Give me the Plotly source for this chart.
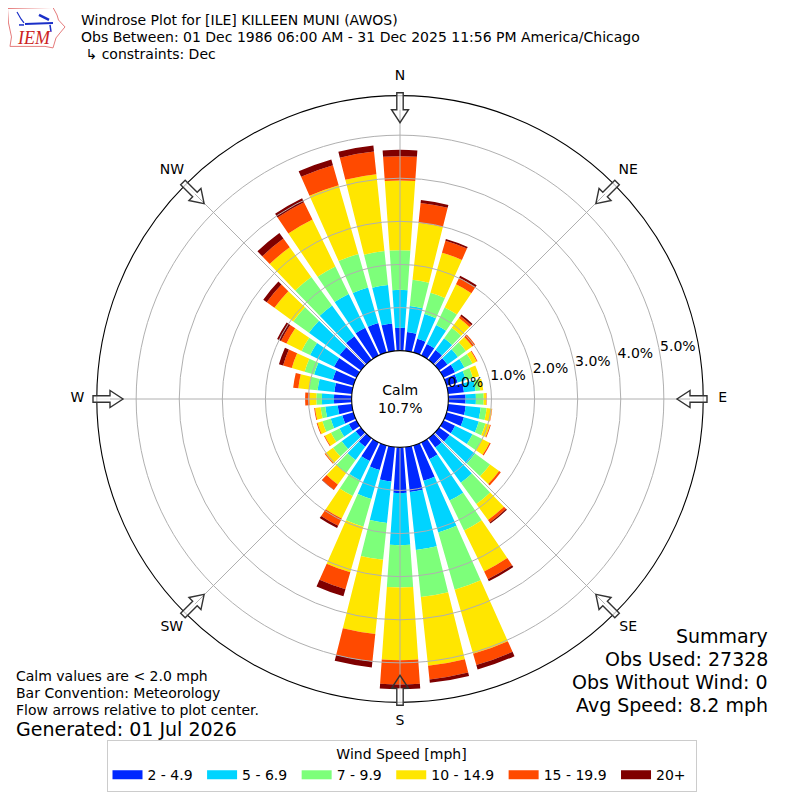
import math
import numpy as np
import plotly.graph_objects as go

directions = list(range(0, 360, 10))
speed_bins = ["2 - 4.9", "5 - 6.9", "7 - 9.9", "10 - 14.9", "15 - 19.9", "20+"]
bin_colors = ["#0028ff", "#00d4ff", "#7dff7a", "#ffe600", "#ff4a00", "#7f0000"]

# cumulative percent at the top of each speed bin, per direction
top_2_5 = [.53,.44,.33,.30,.28,.24,.30,.27,.37,.40,.41,.42,.30,.30,.27,.43,.85,1.05,1.06,.80,.59,.48,.25,.15,.20,.27,.33,.41,.41,.50,.58,.61,.68,.72,.71,.64]
top_5_7 = [1.41,1.05,.93,.79,.62,.54,.54,.47,.64,.64,.76,.78,.75,1.03,1.28,1.50,2.10,2.40,2.27,1.77,1.29,.98,.63,.55,.44,.55,.62,.69,.80,.95,1.20,1.49,1.56,1.59,1.57,1.54]
top_7_10 = [2.33,1.66,1.44,1.24,.92,.77,.75,.64,.75,.82,.90,.94,1.00,1.46,1.89,2.27,3.48,3.50,3.25,2.63,1.96,1.38,1.00,.80,.66,.75,.73,.82,1.00,1.18,1.42,1.94,2.38,2.30,2.38,2.33]
top_10_15 = [3.95,2.99,2.41,1.84,1.20,.95,.86,.79,.82,.88,1.02,1.05,1.19,1.72,2.35,3.33,5.03,5.10,4.94,4.36,3.06,1.96,1.33,1.02,.82,.87,.86,.98,1.25,1.49,1.81,2.48,3.23,3.51,4.04,4.12]
top_15_20 = [4.51,3.45,2.70,2.01,1.26,1.03,.88,.79,.82,.89,1.03,1.07,1.22,1.77,2.42,3.53,5.30,5.42,5.50,5.00,3.47,2.15,1.48,1.04,.84,.89,.88,1.08,1.37,1.70,1.95,2.70,3.48,3.96,4.52,4.65]
top_20 = [4.66,3.52,2.74,2.06,1.30,1.03,.88,.79,.82,.89,1.03,1.07,1.22,1.77,2.45,3.58,5.41,5.50,5.61,5.14,3.64,2.21,1.49,1.04,.84,.89,.88,1.08,1.37,1.80,2.05,2.80,3.64,4.06,4.66,4.79]

radial_ticks = [0, 1, 2, 3, 4, 5]
radial_labels = ["0.0%", "1.0%", "2.0%", "3.0%", "4.0%", "5.0%"]
compass_vals = [0, 45, 90, 135, 180, 225, 270, 315]
compass_text = ["N", "NE", "E", "SE", "S", "SW", "W", "NW"]

title_lines = ["Windrose Plot for [ILE] KILLEEN MUNI (AWOS)",
               "Obs Between: 01 Dec 1986 06:00 AM - 31 Dec 2025 11:56 PM America/Chicago",
               " \u21b3 constraints: Dec"]
summary_lines = ["Summary", "Obs Used: 27328", "Obs Without Wind: 0", "Avg Speed: 8.2 mph"]
note_lines = ["Calm values are < 2.0 mph", "Bar Convention: Meteorology", "Flow arrows relative to plot center."]
generated = "Generated: 01 Jul 2026"
calm_text = "Calm<br>10.7%"

FONT = "DejaVu Sans"
# the page body keeps an 8 px margin, so the figure is 784 px and sits at (8, 8)
W = 784
OFF = 8
RMAX = 5.914
HOLE_PCT = 48.5 / 43.2
DOM = [(392 - 304) / W, (392 + 304) / W]
DOM_LABELS = [(392 - 345) / W, (392 + 345) / W]
RMAX_LABELS = 345 / 43.2 - HOLE_PCT
COMPASS_R = 6.366


def px(x):
    return (x - OFF) / W


def py(y):
    return 1 - (y - OFF) / W


fig = go.Figure()
tops = np.array([top_2_5, top_5_7, top_7_10, top_10_15, top_15_20, top_20])
increments = np.diff(np.vstack([np.zeros(len(directions)), tops]), axis=0)
for name, color, inc in zip(speed_bins, bin_colors, increments):
    fig.add_trace(go.Barpolar(theta=directions, r=inc.round(3), width=8, name=name,
                              marker=dict(color=color, line=dict(width=0)),
                              showlegend=False, hoverinfo="skip", subplot="polar"))
for name, color in zip(speed_bins, bin_colors):
    fig.add_trace(go.Scatterpolar(theta=[None], r=[None], mode="lines", name=name + "\u00a0",
                                  line=dict(color=color, width=9), subplot="polar2"))
# radial and compass labels, placed through the polar axes
fig.add_trace(go.Scatterpolar(theta=[80.3] * len(radial_ticks), r=radial_ticks, text=radial_labels, mode="text",
                              textposition="top right", textfont=dict(family=FONT, size=14, color="#000000"),
                              cliponaxis=False, showlegend=False, hoverinfo="skip", subplot="polar2"))
fig.add_trace(go.Scatterpolar(theta=compass_vals, r=[COMPASS_R] * len(compass_vals), text=compass_text, mode="text",
                              textposition="middle center", textfont=dict(family=FONT, size=14, color="#000000"),
                              cliponaxis=False, showlegend=False, hoverinfo="skip", subplot="polar3"))


def path(points, close=False):
    return "M" + " L".join(f"{px(x):.5f},{py(y):.5f}" for x, y in points) + (" Z" if close else "")


shapes = []
# flow arrows at the eight compass points: see-through head, pale shaft
for deg in compass_vals:
    a = math.radians(deg)
    ux, uy = math.sin(a), -math.cos(a)
    vx, vy = math.cos(a), math.sin(a)

    def place(outline):
        return [(400 + ux * r + vx * s, 400 + uy * r + vy * s) for r, s in outline]

    shapes.append(dict(type="path", path=path(place([(307, 3.2), (290, 3.2), (290, -3.2), (307, -3.2)]), True),
                       xref="paper", yref="paper", fillcolor="rgba(255,255,255,0.75)", line=dict(width=0)))
    outline = [(307, 3.2), (290, 3.2), (290, 8.5), (277, 0), (290, -8.5), (290, -3.2), (307, -3.2)]
    shapes.append(dict(type="path", path=path(place(outline), True), xref="paper", yref="paper",
                       fillcolor="rgba(0,0,0,0)", line=dict(color="#333333", width=1.4)))

iowa = [(7.5, 8.5), (53, 7.5), (57, 15), (58.5, 20), (65, 27), (60, 33), (56, 38), (53, 48),
        (45, 46.5), (10, 46.5), (11.5, 37), (8.5, 23)]
shapes.append(dict(type="path", path=path(iowa, True), xref="paper", yref="paper",
                   line=dict(color="#e57b7b", width=1), fillcolor="rgba(0,0,0,0)"))
for seg, w in [([(25, 24), (53, 23)], 2), ([(39, 15), (49, 20)], 2.5), ([(17, 12), (21, 19), (24, 23)], 1.2),
               ([(50, 25), (51, 32)], 1.5), ([(19, 25), (24, 25)], 1.5)]:
    shapes.append(dict(type="path", path=path(seg), xref="paper", yref="paper",
                       line=dict(color="#1a2fc8", width=w)))

annotations = []


def text(x, y, s, size, anchor="left", **kw):
    nudge = -2 if anchor == "left" else 2
    annotations.append(dict(x=px(x + nudge), y=py(y), xref="paper", yref="paper", text=s, showarrow=False,
                            xanchor=anchor, yanchor="middle", align=anchor,
                            font=dict(family=kw.pop("family", FONT), size=size, color=kw.pop("color", "#000000"))))


for y, s in zip([20, 37, 54], title_lines):
    text(81, y, s, 14)
for y, s in zip([638, 661, 684, 707], summary_lines):
    text(768, y, s, 19, anchor="right")
for y, s in zip([678, 695, 712], note_lines):
    text(16, y, s, 14)
text(16, 731, generated, 19)
text(17, 38, "<i>IEM</i>", 18, family="Liberation Serif", color="#cc2222")
annotations.append(dict(x=px(400), y=py(400), xref="paper", yref="paper", text=calm_text, showarrow=False,
                        font=dict(family=FONT, size=14, color="#000000"), align="center"))

fig.update_layout(
    width=W, height=W, autosize=False,
    margin=dict(l=0, r=0, t=0, b=0),
    paper_bgcolor="white",
    font=dict(family=FONT, size=14, color="#000000"),
    shapes=shapes, annotations=annotations,
    polar=dict(domain=dict(x=DOM, y=DOM), hole=48.5 / 304, bgcolor="white", barmode="stack",
               radialaxis=dict(range=[0, RMAX], visible=False, showgrid=False),
               angularaxis=dict(direction="clockwise", rotation=90, showgrid=False, showline=False,
                                showticklabels=False, ticks="")),
    polar2=dict(domain=dict(x=DOM, y=DOM), hole=48.5 / 304, bgcolor="rgba(0,0,0,0)",
                radialaxis=dict(range=[0, RMAX], angle=12, tickvals=radial_ticks, showticklabels=False,
                                showline=False, ticks="", gridcolor="#b0b0b0", gridwidth=1.2),
                angularaxis=dict(direction="clockwise", rotation=90, tickmode="array", tickvals=compass_vals,
                                 showticklabels=False, gridcolor="#b0b0b0", gridwidth=1.2, linecolor="#000000",
                                 linewidth=1.1, ticks="")),
    polar3=dict(domain=dict(x=DOM_LABELS, y=DOM_LABELS), hole=48.5 / 345, bgcolor="rgba(0,0,0,0)",
                radialaxis=dict(range=[0, RMAX_LABELS], visible=False, showgrid=False),
                angularaxis=dict(direction="clockwise", rotation=90, showgrid=False, showline=False,
                                 showticklabels=False, ticks="")),
    legend=dict(orientation="h", x=px(401.5), xanchor="center", y=py(742), yanchor="top",
                title=dict(text="Wind Speed [mph]", side="top center", font=dict(family=FONT, size=14)),
                bordercolor="#cccccc", borderwidth=1, font=dict(family=FONT, size=14), bgcolor="white",
                itemclick=False),
)
fig.write_html("out.html")
